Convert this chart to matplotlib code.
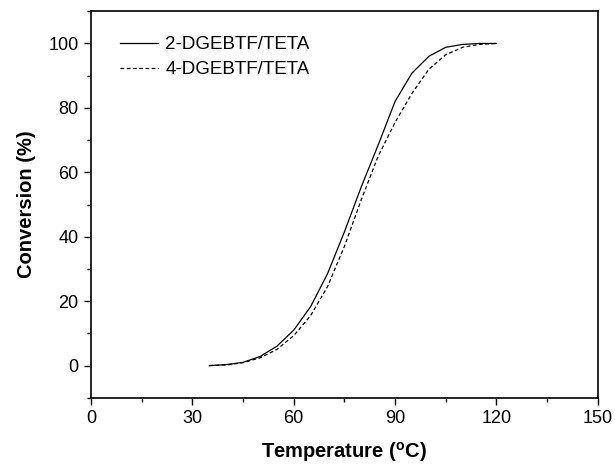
#!/usr/bin/env python3
"""
Conversion vs temperature curves for the two DGEBTF/TETA systems.
"""

import matplotlib
matplotlib.use("Agg")
import matplotlib.pyplot as plt
from matplotlib.ticker import MultipleLocator

temperature = [35, 40, 45, 50, 55, 60, 65, 70, 75, 80, 85, 90, 95, 100, 105, 110, 115, 120]
conv_2dgebtf = [0.0, 0.3, 1.0, 2.8, 6.0, 11.0, 18.3, 28.5, 41.5, 55.5, 68.5, 82.0,
                90.8, 96.0, 98.8, 99.7, 100.0, 100.0]
conv_4dgebtf = [0.0, 0.2, 0.9, 2.4, 5.0, 9.3, 15.5, 24.5, 37.0, 51.5, 65.0, 75.5,
                84.5, 92.0, 96.5, 98.8, 99.7, 100.0]
series_labels = ["2-DGEBTF/TETA", "4-DGEBTF/TETA"]

plt.rcParams['font.family'] = ['Liberation Sans', 'DejaVu Sans']
plt.rcParams['mathtext.fontset'] = 'custom'
plt.rcParams['mathtext.rm'] = 'Liberation Sans'
plt.rcParams['mathtext.bf'] = 'Liberation Sans:bold'

fig = plt.figure(figsize=(6.15, 4.68), dpi=100)
ax = fig.add_axes([0.148, 0.150, 0.824, 0.826])

ax.plot(temperature, conv_2dgebtf, color='black', linewidth=0.9, linestyle='-',
        label=series_labels[0])
ax.plot(temperature, conv_4dgebtf, color='black', linewidth=0.9, linestyle=(0, (3, 2)),
        label=series_labels[1])

ax.set_xlim(0, 150)
ax.set_ylim(-10, 110)
ax.xaxis.set_major_locator(MultipleLocator(30))
ax.xaxis.set_minor_locator(MultipleLocator(15))
ax.yaxis.set_major_locator(MultipleLocator(20))
ax.yaxis.set_minor_locator(MultipleLocator(10))
ax.tick_params(which='major', direction='out', length=5, width=1, labelsize=13,
               top=False, right=False, pad=4)
ax.tick_params(which='minor', direction='out', length=3, width=1,
               top=False, right=False)
for sp in ax.spines.values():
    sp.set_linewidth(1.2)

ax.set_xlabel(r'Temperature ($^{\mathbf{o}}$C)', fontsize=14.5, fontweight='bold', labelpad=9)
ax.set_ylabel('Conversion (%)', fontsize=14.5, fontweight='bold', labelpad=9)

ax.legend(loc='upper left', frameon=False, fontsize=13.5, handlelength=2.0,
          handletextpad=0.4, labelspacing=0.42, bbox_to_anchor=(0.043, 0.955),
          borderaxespad=0)

fig.savefig("out.png", dpi=100)
